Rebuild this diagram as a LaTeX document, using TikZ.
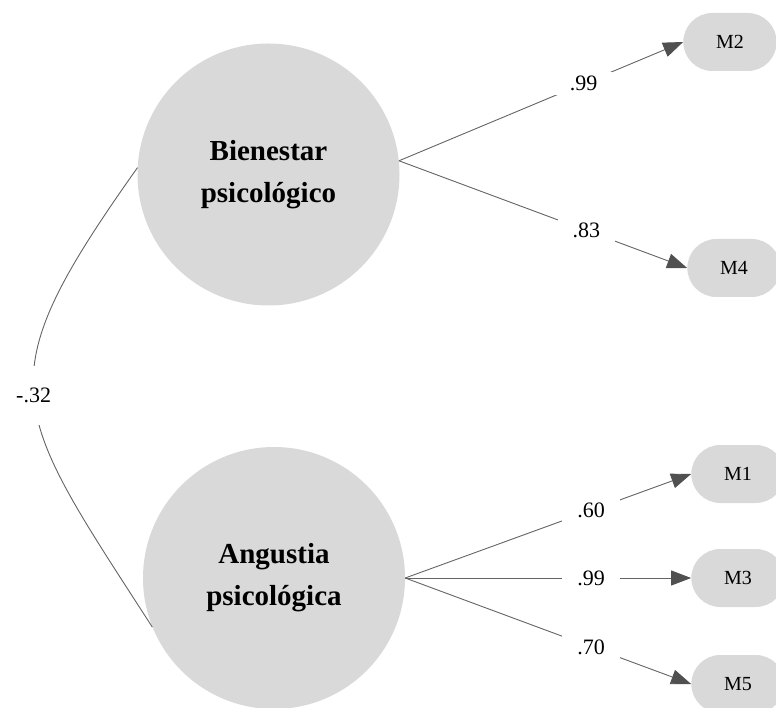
\documentclass[tikz,border=0pt]{standalone}
\usepackage{fontspec}
\setmainfont{Liberation Serif}
\usetikzlibrary{arrows.meta,shapes.misc}
\definecolor{latentgray}{RGB}{217,217,217}
\definecolor{pathgray}{RGB}{100,100,100}
\definecolor{tipgray}{RGB}{80,80,80}

\begin{document}
\begin{tikzpicture}[x=1pt,y=-1pt,
  latent/.style={circle,fill=latentgray,minimum size=262pt,inner sep=0pt,align=center,font=\fontsize{29}{42}\selectfont\bfseries},
  manifest/.style={rounded rectangle,fill=latentgray,minimum width=100pt,minimum height=58pt,font=\fontsize{20}{24}\selectfont},
  loading/.style={draw=pathgray,line width=0.9pt,-{Triangle[length=20pt,width=15pt,color=tipgray]}},
  coef/.style={fill=white,text=black,inner xsep=15pt,inner ysep=4pt,font=\fontsize{22}{26}\selectfont,pos=0.65},
  corr/.style={fill=white,text=black,inner xsep=3pt,inner ysep=22pt,font=\fontsize{22}{26}\selectfont}]
\useasboundingbox (0,0) rectangle (776,708);

% latent factors
\node[latent] (bienestar) at (268.5,174.5) {Bienestar\\psicológico};
\node[latent] (angustia) at (274,578) {Angustia\\psicológica};

% indicators
\node[manifest] (M2) at (730,42) {M2};
\node[manifest] (M4) at (734,268) {M4};
\node[manifest] (M1) at (738,474) {M1};
\node[manifest] (M3) at (738,578) {M3};
\node[manifest] (M5) at (738,684) {M5};

% loadings
\path (bienestar.6) edge[loading] node[coef] {.99} (M2.west);
\path (bienestar.6) edge[loading] node[coef] {.83} (M4.west);

\path (angustia.east) edge[loading] node[coef] {.60} (M1.west);
\path (angustia.east) edge[loading] node[coef] {.99} (M3.west);
\path (angustia.east) edge[loading] node[coef] {.70} (M5.west);

% correlation
\draw[pathgray,line width=0.9pt] (bienestar.177) .. controls (-16,384) and (9,405) .. node[corr] {-.32} (angustia.202);
\end{tikzpicture}
\end{document}
